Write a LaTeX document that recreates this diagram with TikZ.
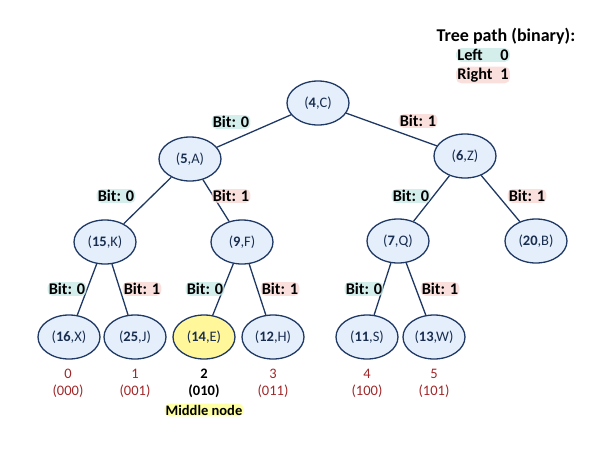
\documentclass[tikz,border=0pt]{standalone}
\usepackage{fontspec}
\setmainfont{Carlito}
\usetikzlibrary{shapes.geometric}
\definecolor{navy}{HTML}{1F3864}
\definecolor{nodefill}{HTML}{E4EFFB}
\definecolor{yellowfill}{HTML}{FFF799}
\definecolor{darkred}{HTML}{A0282A}
\definecolor{glowc}{HTML}{C6E8E6}
\definecolor{glowp}{HTML}{F8D6D2}
\definecolor{glowy}{HTML}{FFFF8C}
\tikzset{
  tnode/.style={ellipse, draw=navy, line width=1.3pt, fill=nodefill, minimum width=62pt, minimum height=44pt, inner sep=0pt, font=\fontsize{14.5}{16}\selectfont, text=navy!80!black},
  hinode/.style={tnode, fill=yellowfill},
  edge/.style={draw=navy, line width=1.3pt},
  bitzero/.style={font=\bfseries\fontsize{16.3}{18}\selectfont, fill=glowc, fill opacity=0.75, text opacity=1, rounded corners=5pt, inner sep=1.2pt},
  bitone/.style={font=\bfseries\fontsize{16.3}{18}\selectfont, fill=glowp, fill opacity=0.75, text opacity=1, rounded corners=5pt, inner sep=1.2pt},
  idx/.style={font=\fontsize{14.5}{17}\selectfont, text=darkred, align=center},
  hiidx/.style={font=\bfseries\fontsize{14.5}{17}\selectfont, align=center},
}
\begin{document}
\begin{tikzpicture}[x=1pt,y=-1pt]
\useasboundingbox (0,0) rectangle (600,450);
% nodes
\node[tnode] (c) at (318,103) {(\textbf{4},C)};
\node[tnode] (a) at (190,159) {(\textbf{5},A)};
\node[tnode] (z) at (465,156) {(\textbf{6},Z)};
\node[tnode] (k) at (105,242) {(\textbf{15},K)};
\node[tnode] (f) at (242,242) {(\textbf{9},F)};
\node[tnode] (q) at (398,241) {(\textbf{7},Q)};
\node[tnode] (b) at (536,241) {(\textbf{20},B)};
\node[tnode] (x) at (69,337) {(\textbf{16},X)};
\node[tnode] (j) at (135,337) {(\textbf{25},J)};
\node[hinode] (e) at (204,337) {(\textbf{14},E)};
\node[tnode] (h) at (273,337) {(\textbf{12},H)};
\node[tnode] (s) at (367,337) {(\textbf{11},S)};
\node[tnode] (w) at (434,337) {(\textbf{13},W)};
% edges
\draw[edge] (c) -- (a);
\draw[edge] (c) -- (z);
\draw[edge] (a) -- (k);
\draw[edge] (a) -- (f);
\draw[edge] (z) -- (q);
\draw[edge] (z) -- (b);
\draw[edge] (k) -- (x);
\draw[edge] (k) -- (j);
\draw[edge] (f) -- (e);
\draw[edge] (f) -- (h);
\draw[edge] (q) -- (s);
\draw[edge] (q) -- (w);
% bit labels
\node[bitzero] (l1) at (231,122) {Bit: 0};
\node[bitone] (r1) at (418,121) {Bit: 1};
\node[bitzero] (l2) at (116,196) {Bit: 0};
\node[bitone] (r2) at (231,196) {Bit: 1};
\node[bitzero] (l3) at (411,196) {Bit: 0};
\node[bitone] (r3) at (527,196) {Bit: 1};
\node[bitzero] (l4) at (67,289) {Bit: 0};
\node[bitone] (r4) at (142,289) {Bit: 1};
\node[bitzero] (l5) at (205,289) {Bit: 0};
\node[bitone] (r5) at (280,289) {Bit: 1};
\node[bitzero] (l6) at (364,289) {Bit: 0};
\node[bitone] (r6) at (440,289) {Bit: 1};
% index labels
\node[idx] (i0) at (68,383) {0\\(000)};
\node[idx] (i1) at (135,383) {1\\(001)};
\node[hiidx] (i2) at (204,383) {2\\(010)};
\node[font=\bfseries\fontsize{14.5}{17}\selectfont, fill=glowy, fill opacity=0.8, text opacity=1, rounded corners=5pt, inner sep=1.2pt] (mid) at (204,410) {Middle node};
\node[idx] (i3) at (273,383) {3\\(011)};
\node[idx] (i4) at (367,383) {4\\(100)};
\node[idx] (i5) at (434,383) {5\\(101)};
% legend
\node[font=\bfseries\fontsize{18}{20}\selectfont] (title) at (506,36) {Tree path (binary):};
\node[bitzero, anchor=west] (leftlab) at (456,55) {\makebox[43pt][l]{Left}0};
\node[bitone, anchor=west] (rightlab) at (456,75) {\makebox[43pt][l]{Right}1};
\end{tikzpicture}
\end{document}
